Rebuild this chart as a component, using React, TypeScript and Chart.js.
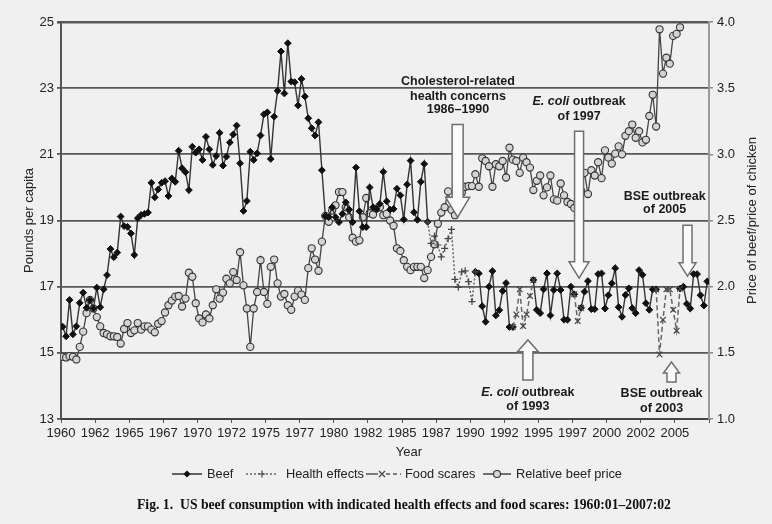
import React, { useEffect, useRef } from "react";
import { Chart, registerables } from "chart.js";
Chart.register(...registerables);

// ---------- data (quarterly, 1960:01 .. 2007:02) ----------
const xTickLabels = [
  "1960", "1962", "1965", "1967", "1970", "1972", "1975", "1977", "1980", "1982",
  "1985", "1987", "1990", "1992", "1995", "1997", "2000", "2002", "2005",
];

// Beef consumption, pounds per capita (null where drawn as health effects / food scares)
const beef: (number | null)[] = [
  15.79, 15.5, 16.6, 15.56, 15.8, 16.51, 16.82, 16.36, 16.6, 16.34,
  16.97, 16.38, 16.92, 17.35, 18.14, 17.89, 18.03, 19.12, 18.83, 18.81,
  18.61, 17.96, 19.07, 19.17, 19.2, 19.24, 20.14, 19.7, 19.94, 20.14,
  20.19, 19.74, 20.27, 20.17, 21.11, 20.58, 20.46, 19.92, 21.23, 21.05,
  21.15, 20.83, 21.53, 21.15, 20.68, 20.95, 21.65, 20.66, 20.93, 21.36,
  21.6, 21.87, 20.73, 19.29, 19.59, 21.08, 20.83, 21.03, 21.57, 22.21,
  22.27, 20.86, 22.14, 22.92, 24.11, 22.84, 24.36, 23.2, 23.18, 22.48,
  23.28, 22.75, 22.09, 21.79, 21.57, 21.97, 20.52, 19.14, 19.1, 19.4,
  19.1, 18.95, 19.2, 19.55, 19.33, 18.95, 20.6, 19.28, 18.8, 18.8,
  20.0, 19.4, 19.35, 19.5, 20.47, 19.58, 19.33, 19.35, 19.96, 19.76,
  19.03, 20.09, 20.81, 19.25, 19.02, 20.17, 20.71, 18.96, null, null,
  null, null, null, null, null, null, null, null, null, null,
  null, 17.45, 17.4, 16.41, 15.94, 17.0, 17.47, 16.13, 16.29, 16.87,
  17.11, 15.78, 15.78, null, null, null, null, null, 17.2, 16.3,
  16.2, 16.92, 17.4, 16.13, 16.9, 17.4, 16.9, 16.0, 16.0, 17.0,
  16.77, null, 16.36, 16.85, 17.17, 16.32, 16.32, 17.38, 17.4, 16.34,
  16.74, 17.1, 17.56, 16.38, 16.09, 16.75, 16.95, 16.35, 16.2, 17.5,
  17.36, 16.5, 16.3, 16.92, 16.92, null, null, null, null, null,
  null, 16.94, 17.0, 16.48, 16.34, 17.38, 17.38, 16.74, 16.43, 17.16,
];

// Health effects (cholesterol concerns), starting at quarter index 107
const healthStart = 107;
const healthEffects = [
  18.96, 18.31, 18.53, 18.26, 17.9, 18.16, 18.45, 18.73, 17.22, 16.98,
  17.45, 17.48, 17.15, 16.55, 17.45,
];

// Food scares: start indices and values of each episode
const foodScareStarts = [132, 150, 174];
const foodScares1993 = [15.78, 16.16, 16.92, 15.81, 16.16, 16.72, 17.2];
const foodScares1997 = [16.77, 15.96, 16.36];
const foodScares2003 = [16.92, 14.95, 16.0, 16.92, 16.92, 16.3, 15.67, 16.94];

// Relative beef price (price of beef / price of chicken), right axis
const relativePrice = [
  1.47, 1.465, 1.475, 1.47, 1.45, 1.545, 1.66, 1.8, 1.9, 1.835,
  1.77, 1.7, 1.65, 1.64, 1.625, 1.625, 1.62, 1.57, 1.68, 1.725,
  1.65, 1.67, 1.725, 1.675, 1.7, 1.7, 1.675, 1.655, 1.72, 1.74,
  1.805, 1.86, 1.895, 1.925, 1.93, 1.85, 1.91, 2.105, 2.075, 1.875,
  1.76, 1.73, 1.79, 1.76, 1.86, 1.98, 1.91, 1.955, 2.06, 2.025,
  2.11, 2.05, 2.26, 2.01, 1.835, 1.545, 1.835, 1.96, 2.2, 1.96,
  1.87, 2.15, 2.205, 2.025, 1.925, 1.945, 1.86, 1.825, 1.925, 1.97,
  1.94, 1.9, 2.14, 2.29, 2.205, 2.12, 2.34, 2.535, 2.49, 2.575,
  2.615, 2.715, 2.715, 2.6, 2.525, 2.37, 2.34, 2.35, 2.525, 2.67,
  2.555, 2.545, 2.59, 2.6, 2.54, 2.55, 2.5, 2.46, 2.29, 2.27,
  2.2, 2.15, 2.125, 2.15, 2.15, 2.15, 2.065, 2.125, 2.225, 2.32,
  2.475, 2.56, 2.6, 2.72, 2.58, 2.54, 2.61, 2.71, 2.755, 2.76,
  2.76, 2.85, 2.755, 2.97, 2.95, 2.91, 2.755, 2.925, 2.91, 2.95,
  2.825, 3.05, 2.96, 2.95, 2.86, 2.975, 2.94, 2.9, 2.73, 2.8,
  2.84, 2.69, 2.75, 2.84, 2.66, 2.65, 2.78, 2.69, 2.64, 2.625,
  2.595, 2.625, 2.725, 2.86, 2.7, 2.88, 2.84, 2.94, 2.82, 3.03,
  2.975, 2.93, 3.005, 3.06, 3.0, 3.14, 3.175, 3.225, 3.125, 3.175,
  3.09, 3.11, 3.29, 3.45, 3.21, 3.945, 3.61, 3.73, 3.685, 3.895,
  3.91, 3.96,
];

const legendLabels = ["Beef", "Health effects", "Food scares", "Relative beef price"];
const leftTitle = "Pounds per capita";
const rightTitle = "Price of beef/price of chicken";
const xTitle = "Year";
const captionLead = "Fig. 1.";
const captionText = "US beef consumption with indicated health effects and food scares: 1960:01\u20132007:02";

// ---------- helpers ----------
const N = beef.length;
const BG = "#f0f0f0";
const SANS = "'Liberation Sans', Arial, sans-serif";
const SERIF = "'Liberation Serif', 'Times New Roman', serif";

const pts = (arr: (number | null)[]) => arr.map((v, i) => ({ x: i + 0.5, y: v }));
const healthFull: (number | null)[] = Array.from({ length: N }, (_, i) =>
  i >= healthStart && i < healthStart + healthEffects.length ? healthEffects[i - healthStart] : null
);
const foodFull: (number | null)[] = Array.from({ length: N }, () => null);
[foodScares1993, foodScares1997, foodScares2003].forEach((seg, s) => {
  seg.forEach((v, j) => {
    foodFull[foodScareStarts[s] + j] = v;
  });
});

// annotations in data units (x = quarter index, y = left axis)
const arrows = [
  { x: 116.3, start: 21.9, base: 19.7, tip: 19.1, shaft: 5.5, head: 12 },
  { x: 151.9, start: 21.7, base: 17.75, tip: 17.26, shaft: 4.5, head: 10 },
  { x: 183.7, start: 18.86, base: 17.72, tip: 17.32, shaft: 4.5, head: 8.5 },
  { x: 136.9, start: 14.18, base: 15.03, tip: 15.39, shaft: 5, head: 10.5 },
  { x: 179.0, start: 14.12, base: 14.39, tip: 14.72, shaft: 4.5, head: 8 },
];
type Part = { t: string; it?: boolean };
const notes: { x: number; y: number; parts: Part[] }[] = [
  { x: 116.4, y: 23.19, parts: [{ t: "Cholesterol-related" }] },
  { x: 116.4, y: 22.76, parts: [{ t: "health concerns" }] },
  { x: 116.4, y: 22.35, parts: [{ t: "1986\u20131990" }] },
  { x: 151.9, y: 22.61, parts: [{ t: "E. coli", it: true }, { t: " outbreak" }] },
  { x: 151.9, y: 22.13, parts: [{ t: "of 1997" }] },
  { x: 177.0, y: 19.71, parts: [{ t: "BSE outbreak" }] },
  { x: 177.0, y: 19.32, parts: [{ t: "of 2005" }] },
  { x: 136.9, y: 13.79, parts: [{ t: "E. coli", it: true }, { t: " outbreak" }] },
  { x: 136.9, y: 13.39, parts: [{ t: "of 1993" }] },
  { x: 176.1, y: 13.76, parts: [{ t: "BSE outbreak" }] },
  { x: 176.1, y: 13.33, parts: [{ t: "of 2003" }] },
];

function blockArrow(ctx: CanvasRenderingContext2D, cx: number, ys: number, yb: number, yt: number, sh: number, hh: number) {
  ctx.beginPath();
  ctx.moveTo(cx - sh, ys);
  ctx.lineTo(cx + sh, ys);
  ctx.lineTo(cx + sh, yb);
  ctx.lineTo(cx + hh, yb);
  ctx.lineTo(cx, yt);
  ctx.lineTo(cx - hh, yb);
  ctx.lineTo(cx - sh, yb);
  ctx.closePath();
  ctx.fillStyle = "#fafafa";
  ctx.fill();
  ctx.lineWidth = 1.5;
  ctx.strokeStyle = "#6e6e6e";
  ctx.stroke();
}

function marker(ctx: CanvasRenderingContext2D, kind: string, x: number, y: number, r: number) {
  ctx.beginPath();
  if (kind === "diamond") {
    ctx.moveTo(x, y - r); ctx.lineTo(x + r, y); ctx.lineTo(x, y + r); ctx.lineTo(x - r, y); ctx.closePath();
    ctx.fillStyle = "#111"; ctx.fill();
  } else if (kind === "plus") {
    ctx.moveTo(x - r, y); ctx.lineTo(x + r, y); ctx.moveTo(x, y - r); ctx.lineTo(x, y + r);
    ctx.strokeStyle = "#444"; ctx.lineWidth = 1.2; ctx.setLineDash([]); ctx.stroke();
  } else if (kind === "x") {
    const d = r * 0.75;
    ctx.moveTo(x - d, y - d); ctx.lineTo(x + d, y + d); ctx.moveTo(x + d, y - d); ctx.lineTo(x - d, y + d);
    ctx.strokeStyle = "#444"; ctx.lineWidth = 1.2; ctx.setLineDash([]); ctx.stroke();
  } else {
    ctx.arc(x, y, r, 0, Math.PI * 2);
    ctx.fillStyle = "#d4d4d4"; ctx.fill();
    ctx.strokeStyle = "#333"; ctx.lineWidth = 1.1; ctx.setLineDash([]); ctx.stroke();
  }
}

function seg(ctx: CanvasRenderingContext2D, x1: number, x2: number, y: number, dash: number[], color: string) {
  ctx.beginPath();
  ctx.setLineDash(dash);
  ctx.moveTo(x1, y); ctx.lineTo(x2, y);
  ctx.strokeStyle = color; ctx.lineWidth = 1.5; ctx.stroke();
  ctx.setLineDash([]);
}

const overlay = {
  id: "overlay",
  beforeDraw(chart: any) {
    const ctx = chart.ctx;
    ctx.save();
    ctx.fillStyle = BG;
    ctx.fillRect(0, 0, chart.width, chart.height);
    ctx.restore();
  },
  afterDatasetsDraw(chart: any) {
    const ctx: CanvasRenderingContext2D = chart.ctx;
    const xs = chart.scales.x, ys = chart.scales.y;
    ctx.save();
    arrows.forEach((a) => {
      blockArrow(ctx, xs.getPixelForValue(a.x), ys.getPixelForValue(a.start), ys.getPixelForValue(a.base),
        ys.getPixelForValue(a.tip), a.shaft, a.head);
    });
    ctx.fillStyle = "#1a1a1a";
    ctx.textBaseline = "middle";
    ctx.textAlign = "left";
    notes.forEach((n) => {
      const fonts = n.parts.map((p) => (p.it ? "italic bold 12.5px " : "bold 12.5px ") + SANS);
      let w = 0;
      n.parts.forEach((p, i) => { ctx.font = fonts[i]; w += ctx.measureText(p.t).width; });
      let x = xs.getPixelForValue(n.x) - w / 2;
      const y = ys.getPixelForValue(n.y);
      n.parts.forEach((p, i) => { ctx.font = fonts[i]; ctx.fillText(p.t, x, y); x += ctx.measureText(p.t).width; });
    });
    ctx.restore();
  },
  afterDraw(chart: any) {
    const ctx: CanvasRenderingContext2D = chart.ctx;
    const area = chart.chartArea;
    const midY = (area.top + area.bottom) / 2;
    ctx.save();
    ctx.fillStyle = "#222";
    ctx.textBaseline = "middle";
    ctx.textAlign = "center";
    ctx.font = "13px " + SANS;
    ctx.save(); ctx.translate(29, midY); ctx.rotate(-Math.PI / 2); ctx.fillText(leftTitle, 0, 0); ctx.restore();
    ctx.save(); ctx.translate(752, midY); ctx.rotate(-Math.PI / 2); ctx.fillText(rightTitle, 0, 0); ctx.restore();
    ctx.fillText(xTitle, 409, 452);

    // legend
    const ly = 474;
    ctx.textAlign = "left";
    ctx.font = "12.8px " + SANS;
    seg(ctx, 172, 202, ly, [], "#333"); marker(ctx, "diamond", 187, ly, 3.6);
    ctx.fillStyle = "#222"; ctx.fillText(legendLabels[0], 207, ly);
    seg(ctx, 246, 277, ly, [2, 2], "#666"); marker(ctx, "plus", 262, ly, 3.5);
    ctx.fillStyle = "#222"; ctx.fillText(legendLabels[1], 286, ly);
    seg(ctx, 366, 378, ly, [], "#555"); seg(ctx, 386, 401, ly, [4, 3], "#555"); marker(ctx, "x", 382, ly, 4);
    ctx.fillStyle = "#222"; ctx.fillText(legendLabels[2], 405, ly);
    seg(ctx, 483, 511, ly, [], "#444"); marker(ctx, "circle", 497, ly, 3.5);
    ctx.fillStyle = "#222"; ctx.fillText(legendLabels[3], 516, ly);

    // caption
    ctx.fillStyle = "#111";
    ctx.font = "bold 13.7px " + SERIF;
    ctx.fillText(captionLead, 137, 505);
    ctx.fillText(captionText, 180, 505);
    ctx.restore();
  },
};

export default function App() {
  const ref = useRef<HTMLCanvasElement>(null);
  useEffect(() => {
    const canvas = ref.current;
    if (!canvas) return;
    const chart = new Chart(canvas, {
      type: "line",
      data: {
        datasets: [
          {
            label: legendLabels[1],
            data: pts(healthFull),
            yAxisID: "y",
            borderColor: "#666",
            borderWidth: 1.5,
            borderDash: [2, 2],
            pointStyle: "cross",
            pointRadius: 3.5,
            pointBorderColor: "#444",
            pointBorderWidth: 1.2,
            spanGaps: false,
            order: 0,
          },
          {
            label: legendLabels[2],
            data: pts(foodFull),
            yAxisID: "y",
            borderColor: "#666",
            borderWidth: 1.5,
            borderDash: [5, 3],
            pointStyle: "crossRot",
            pointRadius: 4,
            pointBorderColor: "#444",
            pointBorderWidth: 1.2,
            spanGaps: false,
            order: 0,
          },
          {
            label: legendLabels[0],
            data: pts(beef),
            yAxisID: "y",
            borderColor: "#333",
            borderWidth: 1.4,
            pointStyle: "rectRot",
            pointRadius: 3.4,
            pointBackgroundColor: "#111",
            pointBorderColor: "#111",
            pointBorderWidth: 1,
            spanGaps: false,
            order: 1,
          },
          {
            label: legendLabels[3],
            data: pts(relativePrice),
            yAxisID: "y1",
            borderColor: "#444",
            borderWidth: 1.3,
            pointStyle: "circle",
            pointRadius: 3.6,
            pointBackgroundColor: "#d4d4d4",
            pointBorderColor: "#333",
            pointBorderWidth: 1.1,
            order: 2,
          },
        ] as any,
      },
      options: {
        animation: false,
        responsive: false,
        devicePixelRatio: 1,
        layout: { padding: { top: 22, left: 0, right: 0, bottom: 0 } },
        plugins: { legend: { display: false }, tooltip: { enabled: false }, title: { display: false } },
        elements: { line: { tension: 0 } },
        scales: {
          x: {
            type: "linear",
            min: 0,
            max: N,
            ticks: {
              stepSize: 10,
              maxTicksLimit: 100,
              autoSkip: false,
              maxRotation: 0,
              minRotation: 0,
              padding: 3,
              color: "#222",
              font: { family: SANS, size: 13 },
              callback: (v: any) => xTickLabels[Math.round(Number(v) / 10)] ?? "",
            },
            grid: { drawOnChartArea: false, drawTicks: true, tickLength: 4, color: "#555", lineWidth: 1 },
            border: { display: true, color: "#444", width: 2 },
            afterFit: (s: any) => { s.height = 105; },
          },
          y: {
            position: "left",
            min: 13,
            max: 25,
            ticks: { stepSize: 2, padding: 3, color: "#222", font: { family: SANS, size: 13 } },
            grid: {
              color: "#585858",
              lineWidth: (c: any) => (c.tick && c.tick.value === 25 ? 2.6 : 1.8),
              tickLength: 4,
            },
            border: { display: true, color: "#555", width: 2 },
            afterFit: (s: any) => { s.width = 61; },
          },
          y1: {
            position: "right",
            min: 1,
            max: 4,
            ticks: {
              stepSize: 0.5,
              padding: 4,
              color: "#222",
              font: { family: SANS, size: 13 },
              callback: (v: any) => Number(v).toFixed(1),
            },
            grid: { drawOnChartArea: false, tickLength: 4, color: "#888", lineWidth: 1.5 },
            border: { display: true, color: "#9a9a9a", width: 2 },
            afterFit: (s: any) => { s.width = 63; },
          },
        },
      } as any,
      plugins: [overlay as any],
    });
    return () => chart.destroy();
  }, []);
  return (
    <div style={{ position: "fixed", left: 0, top: 0, width: 772, height: 524, background: BG }}>
      <canvas ref={ref} width={772} height={524} style={{ display: "block", width: 772, height: 524 }} />
    </div>
  );
}
